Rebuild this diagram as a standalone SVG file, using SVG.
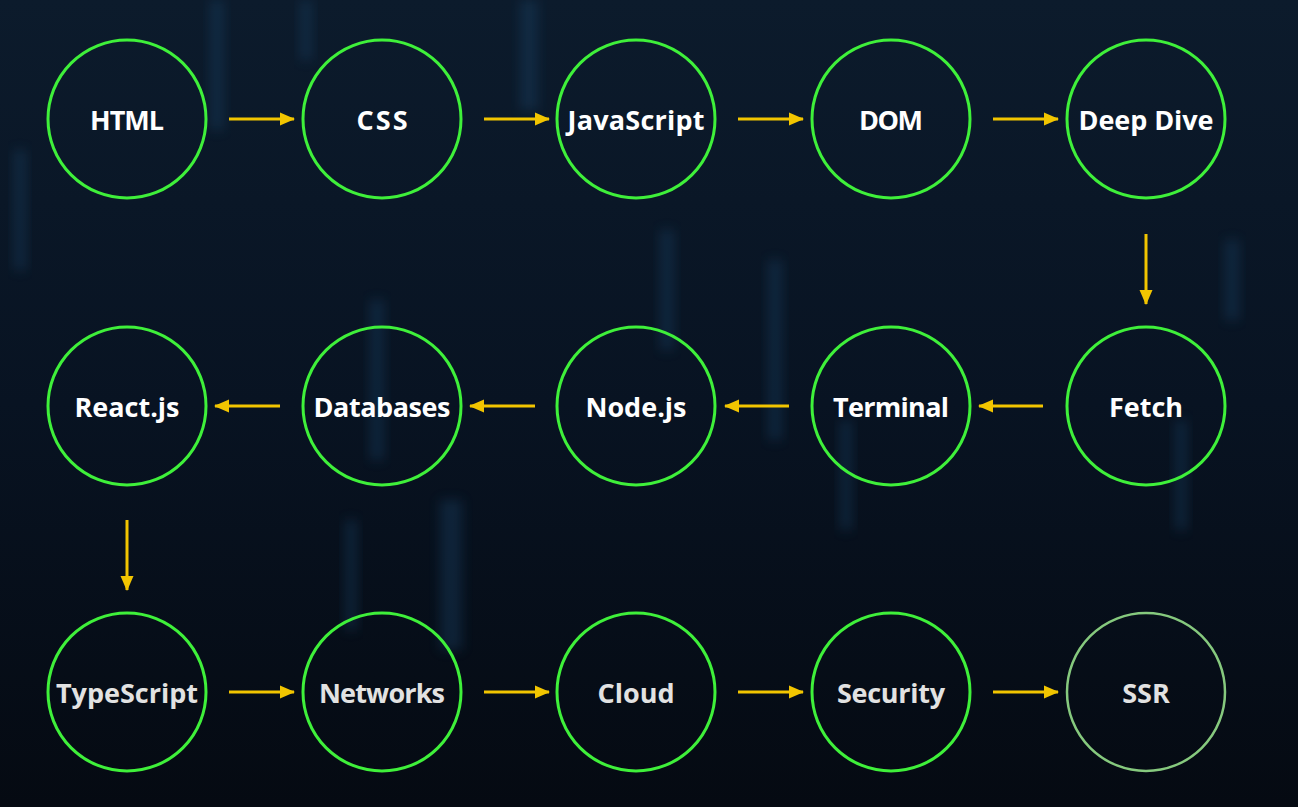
<svg xmlns="http://www.w3.org/2000/svg" width="1298" height="807" viewBox="0 0 1298 807">
<defs>
<linearGradient id="bg" x1="0" y1="0" x2="0" y2="1">
<stop offset="0" stop-color="#0c1b2c"/>
<stop offset="0.5" stop-color="#081322"/>
<stop offset="1" stop-color="#050a12"/>
</linearGradient>
<filter id="blur" x="-50%" y="-50%" width="200%" height="200%"><feGaussianBlur stdDeviation="6"/></filter>
<marker id="ah" markerUnits="userSpaceOnUse" markerWidth="16" markerHeight="14" refX="14" refY="7" orient="auto">
<path d="M0,0.5 L15,7 L0,13.5 Z" fill="#f2c500"/>
</marker>
<style>
.node circle{fill:none;stroke:#3ff03a;stroke-width:3}
.node text{font-family:"Open Sans","Liberation Sans",sans-serif;font-weight:700;font-size:27px;fill:#ffffff;text-anchor:middle;dominant-baseline:central}
.node.dim text{fill:#e2e2e2}
.node.last circle{stroke:#86c97e;stroke-width:2.5}
.conn line{stroke:#f2c500;stroke-width:3;marker-end:url(#ah)}
.streak{fill:#1a4a6e;opacity:0.35;filter:url(#blur)}
</style>
</defs>
<rect width="1298" height="807" fill="url(#bg)"/>
<g id="background-streaks">
<rect class="streak" x="210" y="0" width="14" height="130"/>
<rect class="streak" x="520" y="0" width="18" height="110"/>
<rect class="streak" x="660" y="230" width="14" height="120"/>
<rect class="streak" x="768" y="260" width="14" height="180"/>
<rect class="streak" x="370" y="300" width="14" height="160"/>
<rect class="streak" x="440" y="500" width="22" height="150"/>
<rect class="streak" x="345" y="520" width="12" height="110"/>
<rect class="streak" x="14" y="150" width="12" height="120"/>
<rect class="streak" x="840" y="420" width="12" height="110"/>
<rect class="streak" x="1175" y="420" width="12" height="110"/>
<rect class="streak" x="1225" y="240" width="14" height="80"/>
<rect class="streak" x="300" y="0" width="12" height="60"/>
</g>
<g id="connectors" class="conn">
<line x1="229" y1="119" x2="294" y2="119"/>
<line x1="484" y1="119" x2="549" y2="119"/>
<line x1="738" y1="119" x2="803" y2="119"/>
<line x1="993" y1="119" x2="1058" y2="119"/>
<line x1="1146" y1="234" x2="1146" y2="304"/>
<line x1="1043" y1="406" x2="979" y2="406"/>
<line x1="789" y1="406" x2="725" y2="406"/>
<line x1="535" y1="406" x2="470" y2="406"/>
<line x1="280" y1="406" x2="215" y2="406"/>
<line x1="127" y1="520" x2="127" y2="590"/>
<line x1="229" y1="692" x2="294" y2="692"/>
<line x1="484" y1="692" x2="549" y2="692"/>
<line x1="738" y1="692" x2="803" y2="692"/>
<line x1="993" y1="692" x2="1058" y2="692"/>
</g>
<g id="node-html" class="node"><circle cx="127" cy="119" r="79"/><text x="127" y="119" textLength="74">HTML</text></g>
<g id="node-css" class="node"><circle cx="382" cy="119" r="79"/><text x="382" y="119" textLength="51">CSS</text></g>
<g id="node-javascript" class="node"><circle cx="636" cy="119" r="79"/><text x="636" y="119" textLength="137">JavaScript</text></g>
<g id="node-dom" class="node"><circle cx="891" cy="119" r="79"/><text x="891" y="119" textLength="64">DOM</text></g>
<g id="node-deepdive" class="node"><circle cx="1146" cy="119" r="79"/><text x="1146" y="119" textLength="135">Deep Dive</text></g>
<g id="node-fetch" class="node"><circle cx="1146" cy="406" r="79"/><text x="1146" y="406">Fetch</text></g>
<g id="node-terminal" class="node"><circle cx="891" cy="406" r="79"/><text x="891" y="406" textLength="116">Terminal</text></g>
<g id="node-nodejs" class="node"><circle cx="636" cy="406" r="79"/><text x="636" y="406">Node.js</text></g>
<g id="node-databases" class="node"><circle cx="382" cy="406" r="79"/><text x="382" y="406" textLength="137">Databases</text></g>
<g id="node-reactjs" class="node"><circle cx="127" cy="406" r="79"/><text x="127" y="406">React.js</text></g>
<g id="node-typescript" class="node dim"><circle cx="127" cy="692" r="79"/><text x="127" y="692" textLength="142">TypeScript</text></g>
<g id="node-networks" class="node dim"><circle cx="382" cy="692" r="79"/><text x="382" y="692" textLength="126">Networks</text></g>
<g id="node-cloud" class="node dim"><circle cx="636" cy="692" r="79"/><text x="636" y="692">Cloud</text></g>
<g id="node-security" class="node dim"><circle cx="891" cy="692" r="79"/><text x="891" y="692" textLength="108">Security</text></g>
<g id="node-ssr" class="node dim last"><circle cx="1146" cy="692" r="79"/><text x="1146" y="692">SSR</text></g>
</svg>
